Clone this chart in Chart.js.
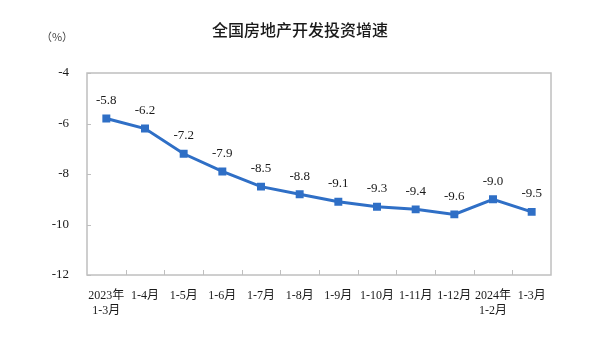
<!DOCTYPE html>
<html>
<head>
<meta charset="utf-8">
<script src="https://cdn.jsdelivr.net/npm/chart.js@4/dist/chart.umd.min.js"></script>
<style>
  html, body { margin: 0; padding: 0; background: #fff; }
  #wrap { width: 609px; height: 344px; position: relative; }
</style>
</head>
<body>
<div id="wrap"><canvas id="investChart" width="609" height="344"></canvas></div>
<script>
const categories = [
    ['2023年', '1-3月'], '1-4月', '1-5月', '1-6月', '1-7月', '1-8月',
    '1-9月', '1-10月', '1-11月', '1-12月', ['2024年', '1-2月'], '1-3月'
];
const growthRates = [-5.8, -6.2, -7.2, -7.9, -8.5, -8.8, -9.1, -9.3, -9.4, -9.6, -9.0, -9.5];
const yTicks = [-12, -10, -8, -6, -4];

const serifFont = '"Liberation Serif", "Noto Sans CJK SC", serif';
const frameColor = '#bfbfbf';

// frame, inward tick marks, point labels, title and unit
const decorations = {
    id: 'decorations',
    afterDatasetsDraw(chart) {
        const ctx = chart.ctx;
        const area = chart.chartArea;
        const xs = chart.scales.x;
        const ys = chart.scales.y;
        ctx.save();
        ctx.strokeStyle = frameColor;
        ctx.lineWidth = 1.5;
        ctx.strokeRect(area.left, area.top, area.right - area.left, area.bottom - area.top);

        ctx.lineWidth = 1;
        ctx.beginPath();
        yTicks.forEach(v => {
            const y = Math.round(ys.getPixelForValue(v)) + 0.5;
            ctx.moveTo(area.left, y);
            ctx.lineTo(area.left + 4, y);
        });
        for (let i = 1; i < categories.length; i++) {
            const x = Math.round((xs.getPixelForValue(i - 1) + xs.getPixelForValue(i)) / 2) + 0.5;
            ctx.moveTo(x, area.bottom);
            ctx.lineTo(x, area.bottom - 5);
        }
        ctx.stroke();

        // value labels
        const meta = chart.getDatasetMeta(0);
        ctx.fillStyle = '#1a1a1a';
        ctx.font = '13px ' + serifFont;
        ctx.textAlign = 'center';
        ctx.textBaseline = 'middle';
        meta.data.forEach((pt, i) => {
            ctx.fillText(growthRates[i].toFixed(1), pt.x, pt.y - 18);
        });

        // title and unit
        ctx.fillStyle = '#1a1a1a';
        ctx.font = '500 16px "Noto Sans CJK SC", sans-serif';
        ctx.fillText('全国房地产开发投资增速', 300, 30);
        ctx.font = '11px "Noto Sans CJK SC", sans-serif';
        ctx.fillStyle = '#444';
        ctx.fillText('（%）', 57, 37);
        ctx.restore();
    }
};

new Chart(document.getElementById('investChart').getContext('2d'), {
    type: 'line',
    data: {
        labels: categories,
        datasets: [{
            data: growthRates,
            borderColor: '#2f6fc6',
            backgroundColor: '#2f6fc6',
            borderWidth: 3,
            pointStyle: 'rect',
            pointRadius: 3.5,
            pointHoverRadius: 3.5,
            tension: 0,
            fill: false
        }]
    },
    options: {
        responsive: false,
        animation: false,
        devicePixelRatio: 1,
        layout: { padding: { top: 73, right: 58, left: 0, bottom: 0 } },
        plugins: {
            legend: { display: false },
            tooltip: { enabled: false }
        },
        scales: {
            x: {
                type: 'category',
                offset: true,
                grid: { display: false },
                border: { display: false },
                ticks: {
                    color: '#1a1a1a',
                    font: { family: serifFont, size: 12 },
                    padding: 6,
                    maxRotation: 0,
                    autoSkip: false
                },
                afterFit(scale) { scale.height = 69; }
            },
            y: {
                min: -12,
                max: -4,
                afterBuildTicks(scale) { scale.ticks = yTicks.map(v => ({ value: v })); },
                grid: { display: false },
                border: { display: false },
                ticks: {
                    color: '#1a1a1a',
                    font: { family: serifFont, size: 13 },
                    padding: 10
                },
                afterFit(scale) { scale.width = 87; }
            }
        }
    },
    plugins: [decorations]
});
</script>
</body>
</html>
